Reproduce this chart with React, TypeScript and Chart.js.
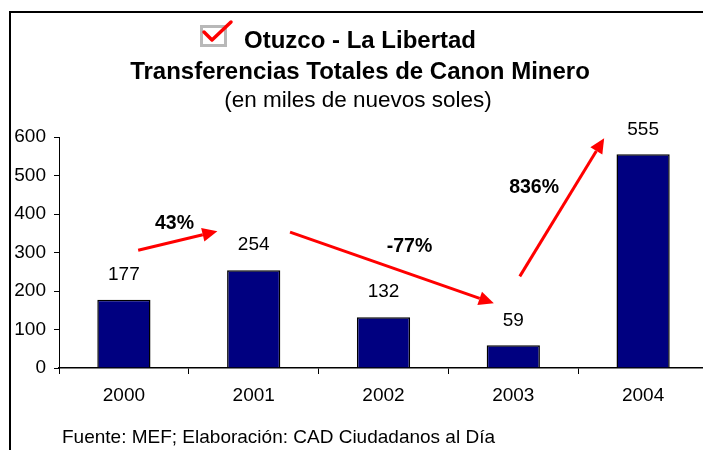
import React, { useEffect, useRef } from "react";
import { Chart, registerables } from "chart.js";

Chart.register(...registerables);

const years = ["2000", "2001", "2002", "2003", "2004"];
const canon = [177, 254, 132, 59, 555];
const yTicks = [0, 100, 200, 300, 400, 500, 600];
const growthLabels = ["43%", "-77%", "836%"];
const titleLines = [
  "Otuzco - La Libertad",
  "Transferencias Totales de Canon Minero",
  "(en miles de nuevos soles)",
];
const sourceText = "Fuente: MEF; Elaboración: CAD Ciudadanos al Día";

// arrows in data space: [categoryIndex, value]
const arrowSpecs = [
  { from: [0.11, 306], to: [0.72, 355], label: 0, at: [0.39, 374] },
  { from: [1.28, 353], to: [2.85, 168], label: 1, at: [2.2, 314] },
  { from: [3.05, 238], to: [3.7, 597], label: 2, at: [3.16, 468] },
];

const FONT = "'Liberation Sans', Arial, sans-serif";

const decorPlugin = {
  id: "decor",
  afterDraw(chart: any) {
    const ctx = chart.ctx as CanvasRenderingContext2D;
    const xs = chart.scales.x;
    const ys = chart.scales.y;
    ctx.save();
    // frame
    ctx.strokeStyle = "#000";
    ctx.lineWidth = 2;
    ctx.beginPath();
    ctx.moveTo(10, 452);
    ctx.lineTo(10, 12);
    ctx.lineTo(730, 12);
    ctx.stroke();

    // icon
    ctx.strokeStyle = "#b8b8b8";
    ctx.lineWidth = 3;
    ctx.strokeRect(201.5, 26.5, 24, 19);
    ctx.strokeStyle = "#ff0000";
    ctx.lineWidth = 3.5;
    ctx.lineCap = "round";
    ctx.lineJoin = "round";
    ctx.beginPath();
    ctx.moveTo(204, 32);
    ctx.lineTo(212, 40);
    ctx.lineTo(231, 22);
    ctx.stroke();

    // titles
    ctx.fillStyle = "#000";
    ctx.textBaseline = "middle";
    ctx.textAlign = "left";
    ctx.font = `bold 24px ${FONT}`;
    ctx.fillText(titleLines[0], 244, 41);
    ctx.textAlign = "center";
    ctx.fillText(titleLines[1], 360, 72);
    ctx.font = `22.5px ${FONT}`;
    ctx.fillText(titleLines[2], 358, 101);

    // value labels
    ctx.font = `19px ${FONT}`;
    canon.forEach((v, i) => {
      const x = xs.getPixelForValue(i);
      const y = ys.getPixelForValue(v);
      ctx.fillText(String(v), x, y - 25);
    });

    // arrows
    const px = (p: number[]) => {
      const base = Math.floor(p[0]);
      const frac = p[0] - base;
      const x0 = xs.getPixelForValue(base);
      const x1 = xs.getPixelForValue(base + 1);
      return [x0 + (x1 - x0) * frac, ys.getPixelForValue(p[1])];
    };
    arrowSpecs.forEach((a) => {
      const [x1, y1] = px(a.from);
      const [x2, y2] = px(a.to);
      const ang = Math.atan2(y2 - y1, x2 - x1);
      const head = 15;
      const hw = 7;
      const bx = x2 - head * Math.cos(ang);
      const by = y2 - head * Math.sin(ang);
      ctx.strokeStyle = "#ff0000";
      ctx.fillStyle = "#ff0000";
      ctx.lineWidth = 3;
      ctx.lineCap = "butt";
      ctx.beginPath();
      ctx.moveTo(x1, y1);
      ctx.lineTo(bx, by);
      ctx.stroke();
      ctx.beginPath();
      ctx.moveTo(x2, y2);
      ctx.lineTo(bx + hw * Math.sin(ang), by - hw * Math.cos(ang));
      ctx.lineTo(bx - hw * Math.sin(ang), by + hw * Math.cos(ang));
      ctx.closePath();
      ctx.fill();
      const [lx, ly] = px(a.at);
      ctx.fillStyle = "#000";
      ctx.font = `bold 19.5px ${FONT}`;
      ctx.textAlign = "center";
      ctx.fillText(growthLabels[a.label], lx, ly);
    });

    // source
    ctx.textAlign = "left";
    ctx.font = `19px ${FONT}`;
    ctx.fillText(sourceText, 62, 438);
    ctx.restore();
  },
};

export default function App() {
  const ref = useRef<HTMLCanvasElement>(null);
  useEffect(() => {
    const canvas = ref.current!;
    const chart = new Chart(canvas, {
      type: "bar",
      data: {
        labels: years,
        datasets: [
          {
            data: canon,
            backgroundColor: "#000080",
            borderColor: "#000000",
            borderWidth: 1.5,
            barPercentage: 0.41,
            categoryPercentage: 1,
          },
        ],
      },
      options: {
        responsive: false,
        animation: false,
        devicePixelRatio: 1,
        layout: { padding: { left: 0, top: 137, right: 12, bottom: 0 } },
        plugins: {
          legend: { display: false },
          tooltip: { enabled: false },
          title: { display: false },
        },
        scales: {
          x: {
            offset: true,
            grid: {
              display: true,
              drawOnChartArea: false,
              drawTicks: true,
              tickLength: 6,
              color: "#000",
              offset: true,
            },
            border: { display: true, color: "#000", width: 1.5 },
            ticks: {
              color: "#000",
              font: { family: FONT, size: 19 },
              padding: 10,
            },
            afterFit(scale: any) {
              scale.height = 82;
            },
          },
          y: {
            min: 0,
            max: 600,
            afterBuildTicks(scale: any) {
              scale.ticks = yTicks.map((v) => ({ value: v }));
            },
            grid: {
              display: true,
              drawOnChartArea: false,
              drawTicks: true,
              tickLength: 5,
              color: "#000",
            },
            border: { display: true, color: "#000", width: 1 },
            ticks: {
              color: "#000",
              font: { family: FONT, size: 19 },
              padding: 8,
            },
            afterFit(scale: any) {
              scale.width = 59;
            },
          },
        },
      },
      plugins: [decorPlugin],
    });
    return () => chart.destroy();
  }, []);
  return (
    <div style={{ position: "absolute", left: 0, top: 0, width: 720, height: 450, overflow: "hidden", background: "#fff" }}>
      <canvas ref={ref} width={720} height={450} style={{ display: "block" }} />
    </div>
  );
}
